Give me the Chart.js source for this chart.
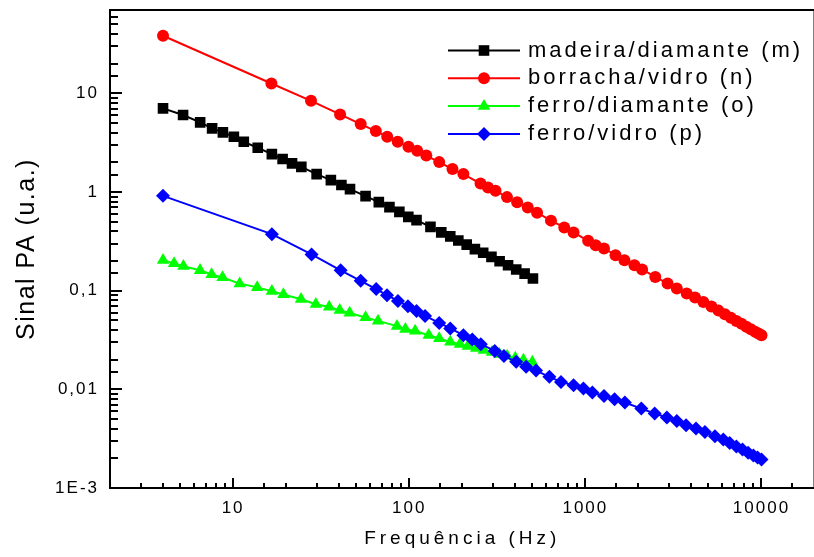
<!DOCTYPE html>
<html>
<head>
<meta charset="utf-8">
<script src="https://cdn.jsdelivr.net/npm/chart.js@4/dist/chart.umd.min.js"></script>
<style>
  html, body { margin: 0; padding: 0; background: #fff; overflow: hidden; }
  #wrap { width: 822px; height: 557px; }
</style>
</head>
<body>
<div id="wrap"><canvas id="chart"></canvas></div>
<script>
// frequencies (Hz) and signals (u.a.)
const madeiraHz = [4, 5.2, 6.5, 7.6, 8.75, 10.1, 11.5, 13.8, 16.6, 19.1, 21.6, 24.4, 29.8, 35.9, 41.2, 46.1, 56.5, 67.2, 77.2, 87.9,
  98.8, 110, 132, 152, 171, 190, 212, 236, 263, 293, 326, 364, 405, 452, 504];
const madeiraSinal = [7.05, 6.03, 5.08, 4.42, 4.02, 3.63, 3.23, 2.81, 2.42, 2.16, 1.95, 1.80, 1.52, 1.32, 1.18, 1.07, 0.908, 0.790, 0.703, 0.630,
  0.560, 0.519, 0.443, 0.390, 0.355, 0.323, 0.293, 0.264, 0.242, 0.220, 0.199, 0.181, 0.164, 0.149, 0.133];

const borrachaHz = [4, 16.5, 27.7, 40.5, 53, 64.6, 75, 86, 99, 111, 125, 148, 176, 203, 254, 280, 309, 359, 410, 471,
  532, 638, 759, 857, 1037, 1145, 1276, 1484, 1667, 1900, 2100, 2495, 2931, 3306, 3763, 4196, 4677, 5200, 5700, 6200,
  6700, 7200, 7700, 8200, 8700, 9200, 9600, 10000];
const borrachaSinal = [38.4, 12.6, 8.41, 6.12, 4.88, 4.15, 3.63, 3.23, 2.87, 2.62, 2.34, 2.01, 1.71, 1.52, 1.22, 1.11, 1.03, 0.888, 0.787, 0.698,
  0.618, 0.513, 0.438, 0.389, 0.320, 0.289, 0.268, 0.229, 0.204, 0.181, 0.164, 0.138, 0.118, 0.105, 0.0937, 0.0853, 0.0769, 0.069, 0.0628, 0.0576,
  0.0532, 0.0494, 0.0462, 0.0432, 0.0407, 0.0384, 0.0368, 0.0353];

const ferroDiamHz = [4, 4.62, 5.22, 6.49, 7.55, 8.71, 10.9, 13.7, 16.6, 19.3, 24.3, 29.5, 35.1, 40.3, 45.9, 56.5, 66.5, 85.2, 95.1, 108,
  129, 148, 171, 194, 215, 240, 265, 295, 325, 360, 400, 445, 500];
const ferroDiamSinal = [0.204, 0.189, 0.177, 0.161, 0.146, 0.136, 0.118, 0.108, 0.0988, 0.0915, 0.0820, 0.0730, 0.0685, 0.0634, 0.0595, 0.0535, 0.0494, 0.0437, 0.0407, 0.0391,
  0.0354, 0.0328, 0.0303, 0.0287, 0.0274, 0.0261, 0.0250, 0.0238, 0.0228, 0.0218, 0.0208, 0.0199, 0.0189];

const ferroVidroHz = [4, 16.6, 27.9, 40.8, 53, 64.9, 74.8, 86.3, 98.3, 110, 123, 148, 171, 203, 228, 255, 306, 345, 405, 461,
  525, 625, 727, 857, 975, 1096, 1276, 1465, 1676, 2078, 2475, 2904, 3306, 3730, 4249, 4775, 5440, 6070, 6600, 7200,
  7800, 8400, 9000, 9500, 10000];
const ferroVidroSinal = [0.915, 0.374, 0.233, 0.161, 0.126, 0.104, 0.0900, 0.0788, 0.0697, 0.0624, 0.0555, 0.0471, 0.0414, 0.0354, 0.0320, 0.0287, 0.0245, 0.0218, 0.0190, 0.0169,
  0.0155, 0.0134, 0.0119, 0.0110, 0.0102, 0.00929, 0.00857, 0.00794, 0.00735, 0.00638, 0.00569, 0.00518, 0.00478, 0.00432, 0.00400, 0.00370, 0.00334, 0.00310, 0.00286, 0.00264,
  0.00245, 0.00228, 0.00214, 0.00204, 0.00195];

const seriesNames = ['madeira/diamante (m)', 'borracha/vidro (n)', 'ferro/diamante (o)', 'ferro/vidro (p)'];

const xTickValues = [10, 100, 1000, 10000];
const xTickLabels = ['10', '100', '1000', '10000'];
const yTickValues = [0.001, 0.01, 0.1, 1, 10];
const yTickLabels = ['1E-3', '0,01', '0,1', '1', '10'];

const xTitle = 'Frequência (Hz)';
const yTitle = 'Sinal PA (u.a.)';

const FONT = 'Liberation Sans, Arial, sans-serif';

function pts(xs, ys) {
    return xs.map((x, i) => ({ x: x, y: ys[i] }));
}

function isDecade(v) {
    const l = Math.log10(v);
    return Math.abs(l - Math.round(l)) < 1e-6;
}

function tickLabel(values, labels) {
    return function(v) {
        for (let i = 0; i < values.length; i++) {
            if (Math.abs(Math.log10(v) - Math.log10(values[i])) < 1e-6) return labels[i];
        }
        return '';
    };
}

function serie(label, xs, ys, color, style, radius, order) {
    return {
        label: label,
        data: pts(xs, ys),
        showLine: true,
        borderColor: color,
        backgroundColor: color,
        borderWidth: 2,
        pointStyle: style,
        pointRadius: radius,
        pointBackgroundColor: color,
        pointBorderWidth: 0,
        tension: 0,
        order: order
    };
}

const datasets = [
    serie(seriesNames[0], madeiraHz, madeiraSinal, '#000000', 'rect', 7.5, 0),
    serie(seriesNames[1], borrachaHz, borrachaSinal, '#ff0000', 'circle', 6, 0),
    serie(seriesNames[2], ferroDiamHz, ferroDiamSinal, '#00ff00', 'triangle', 7.2, 2),
    serie(seriesNames[3], ferroVidroHz, ferroVidroSinal, '#0000ff', 'rectRot', 7, 1)
];

// frame, inward ticks, axis titles and legend
const decorations = {
    id: 'decorations',
    beforeDraw(chart) {
        chart.ctx.letterSpacing = '2px';
    },
    afterDraw(chart) {
        const ctx = chart.ctx;
        const a = chart.chartArea;
        const xs = chart.scales.x;
        const ys = chart.scales.y;
        ctx.save();
        ctx.strokeStyle = '#000';
        ctx.lineWidth = 2;
        ctx.beginPath();
        xs.ticks.forEach(t => {
            const px = Math.round(xs.getPixelForValue(t.value));
            const len = isDecade(t.value) ? 10 : 5;
            ctx.moveTo(px, a.bottom);
            ctx.lineTo(px, a.bottom - len);
        });
        ys.ticks.forEach(t => {
            const py = Math.round(ys.getPixelForValue(t.value));
            const len = isDecade(t.value) ? 12 : 8;
            ctx.moveTo(a.left, py);
            ctx.lineTo(a.left + len, py);
        });
        ctx.stroke();
        ctx.strokeRect(a.left, a.top, a.right - a.left, a.bottom - a.top);

        // axis titles
        ctx.fillStyle = '#000';
        ctx.font = '19px ' + FONT;
        ctx.letterSpacing = '4px';
        ctx.textAlign = 'center';
        ctx.textBaseline = 'alphabetic';
        ctx.fillText(xTitle, (a.left + a.right) / 2, a.bottom + 56);
        ctx.save();
        ctx.font = '25px ' + FONT;
        ctx.letterSpacing = '1.5px';
        ctx.translate(34, (a.top + a.bottom) / 2);
        ctx.rotate(-Math.PI / 2);
        ctx.fillText(yTitle, 0, 0);
        ctx.restore();

        // legend
        const lx0 = 448, lx1 = 520, rowTop = 50.5, rowStep = 27.8;
        ctx.font = '22px ' + FONT;
        ctx.letterSpacing = '3px';
        ctx.textAlign = 'left';
        chart.data.datasets.forEach((ds, i) => {
            const y = rowTop + i * rowStep;
            ctx.strokeStyle = ds.borderColor;
            ctx.lineWidth = 2;
            ctx.beginPath();
            ctx.moveTo(lx0, y);
            ctx.lineTo(lx1, y);
            ctx.stroke();
            ctx.fillStyle = ds.pointBackgroundColor;
            Chart.helpers.drawPoint(ctx, { pointStyle: ds.pointStyle, radius: ds.pointRadius, rotation: 0, borderWidth: 0 }, (lx0 + lx1) / 2, y);
            ctx.fillStyle = '#000';
            ctx.fillText(ds.label, 528, y + 6);
        });
        ctx.restore();
    }
};

new Chart(document.getElementById('chart').getContext('2d'), {
    type: 'scatter',
    data: { datasets: datasets },
    options: {
        responsive: true,
        maintainAspectRatio: false,
        animation: false,
        events: [],
        layout: { padding: 0 },
        plugins: { legend: { display: false }, tooltip: { enabled: false } },
        scales: {
            x: {
                type: 'logarithmic',
                min: 2,
                max: 20000,
                grid: { display: false, drawTicks: false },
                border: { display: false },
                ticks: {
                    autoSkip: false,
                    maxRotation: 0,
                    padding: 10,
                    color: '#000',
                    font: { family: FONT, size: 17 },
                    callback: tickLabel(xTickValues, xTickLabels)
                },
                afterFit: s => { s.height = 69; s.paddingLeft = 0; s.paddingRight = 3; }
            },
            y: {
                type: 'logarithmic',
                min: 0.001,
                max: 70,
                grid: { display: false, drawTicks: false },
                border: { display: false },
                ticks: {
                    autoSkip: false,
                    padding: 11,
                    color: '#000',
                    font: { family: FONT, size: 17 },
                    callback: tickLabel(yTickValues, yTickLabels)
                },
                afterFit: s => { s.width = 110; s.paddingTop = 10; s.paddingBottom = 0; }
            }
        }
    },
    plugins: [decorations]
});
</script>
</body>
</html>
